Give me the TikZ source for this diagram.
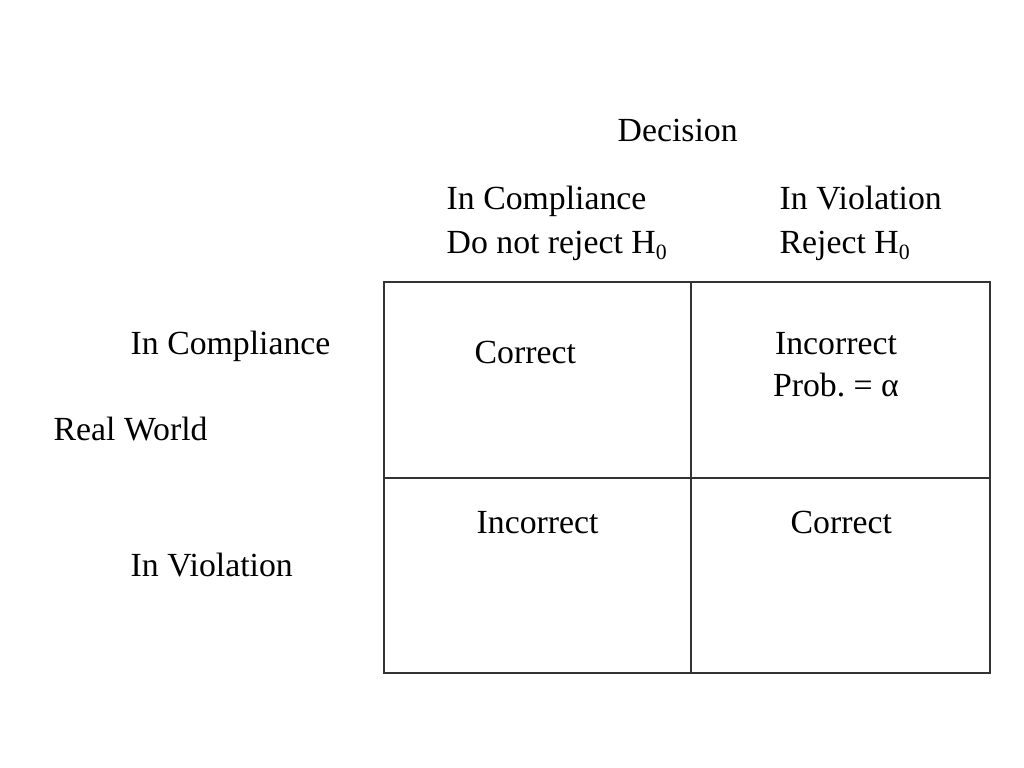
\documentclass[tikz,border=0pt]{standalone}
\usepackage{fontspec}
\setmainfont{Liberation Serif}
\usetikzlibrary{positioning,calc}
\newcommand{\hsub}[1]{\raisebox{-0.35ex}{\fontsize{6.2}{7}\selectfont #1}}
\tikzset{
	txt/.style={
		anchor=base west,
		inner sep=0pt,
		font=\fontsize{9.6}{11}\selectfont\frenchspacing,
	},
	ctxt/.style={
		txt,
		anchor=base,
	},
	tableline/.style={
		draw=black!80,
		line width=0.35pt,
	},
}

\begin{document}
\begin{tikzpicture}[x=0.01cm,y=-0.01cm]
\useasboundingbox (0,0) rectangle (1024,768);

% table corners
\coordinate (tl) at (384,282);
\coordinate (br) at (990,673);
\coordinate (mt) at (691,282);
\coordinate (mb) at (691,673);
\coordinate (ml) at (384,478);
\coordinate (mr) at (990,478);

\draw[tableline] (tl) rectangle (br);
\draw[tableline] (mt) -- (mb);
\draw[tableline] (ml) -- (mr);

% column heads
\node[txt] (dec) at (617,142) {Decision};
\node[txt] (ccomp) at (446,210) {In Compliance};
\node[txt] (cnorej) at (446,254) {Do not reject H\hsub{0}};
\node[txt] (cviol) at (779,210) {In Violation};
\node[txt] (crej) at (779,254) {Reject H\hsub{0}};

% row heads
\node[txt] (rcomp) at (130,355) {In Compliance};
\node[txt] (rworld) at (53,441) {Real World};
\node[txt] (rviol) at (130,577) {In Violation};

% cells
\node[txt] (c11) at (474,364) {Correct};
\node[ctxt] (c12) at (836,355) {Incorrect};
\node[ctxt] (c12p) at (836,397) {Prob. = α};
\node[txt] (c21) at (476,534) {Incorrect};
\node[txt] (c22) at (790,534) {Correct};

\end{tikzpicture}
\end{document}
